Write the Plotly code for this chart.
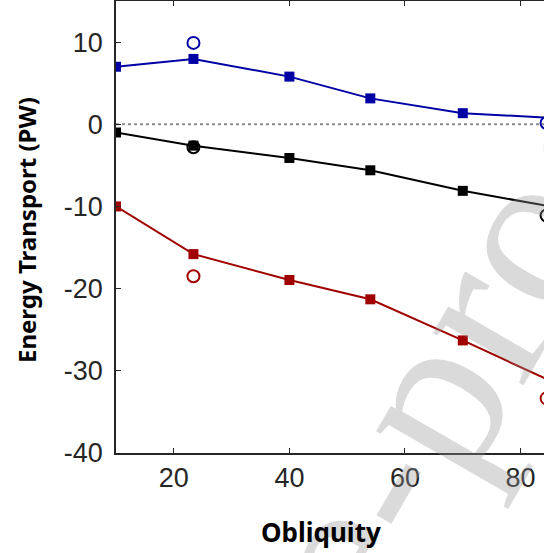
import plotly.graph_objects as go

# Model runs (filled squares joined by lines)
obliquity = [10, 23.4, 40, 54, 70, 90]
blue_vals = [7.0, 7.95, 5.8, 3.15, 1.35, 0.6]
black_vals = [-1.0, -2.6, -4.1, -5.6, -8.1, -10.6]
red_vals = [-10.0, -15.8, -18.95, -21.3, -26.3, -32.8]

# Reference points (open circles)
ref_obliquity = [23.4, 84.5]
blue_ref = [9.9, 0.15]
black_ref = [-2.8, -11.1]
red_ref = [-18.5, -33.35]

y_ticks = [-40, -30, -20, -10, 0, 10]
y_ticklabels = [str(v) for v in y_ticks]
x_ticks = [20, 40, 60, 80]
x_ticklabels = [str(v) for v in x_ticks]

BLUE = "rgb(0,0,165)"
BLACK = "rgb(0,0,0)"
RED = "rgb(160,0,0)"
AX = "#262626"

fig = go.Figure()

fig.add_hline(y=0, line=dict(color="#8c8c8c", width=2, dash="dot"), layer="below")

for vals, col in [(blue_vals, BLUE), (black_vals, BLACK), (red_vals, RED)]:
    fig.add_trace(go.Scatter(
        x=obliquity, y=vals, mode="lines+markers",
        line=dict(color=col, width=2),
        marker=dict(symbol="square", size=10, color=col),
        showlegend=False))

for vals, col in [(blue_ref, BLUE), (black_ref, BLACK), (red_ref, RED)]:
    fig.add_trace(go.Scatter(
        x=ref_obliquity, y=vals, mode="markers",
        marker=dict(symbol="circle-open", size=12, color=col, line=dict(width=2, color=col)),
        showlegend=False))

L, T, B = 116, 1, 100
W, H = 544, 553

fig.update_layout(
    width=W, height=H,
    margin=dict(l=L, r=0, t=T, b=B),
    paper_bgcolor="white", plot_bgcolor="white",
    font=dict(family="Liberation Sans, Arial, sans-serif", color=AX),
    xaxis=dict(range=[10, 84.05], tickvals=x_ticks, ticktext=x_ticklabels,
               ticks="inside", ticklen=5,
               tickcolor=AX, showline=True, linecolor=AX, linewidth=1.5,
               mirror="ticks", showgrid=False, zeroline=False,
               tickfont=dict(size=27, color=AX), ticklabelstandoff=0),
    yaxis=dict(range=[-40, 15], tickvals=y_ticks, ticktext=y_ticklabels,
               ticks="inside", ticklen=5,
               tickcolor=AX, showline=True, linecolor=AX, linewidth=1.5,
               mirror=False, showgrid=False, zeroline=False,
               tickfont=dict(size=27, color=AX), ticklabelstandoff=6),
    annotations=[
        dict(text="Journal Pre-proof", xref="paper", yref="paper",
             x=0.30, y=-0.58, xanchor="center", yanchor="middle",
             textangle=-60, showarrow=False,
             font=dict(family="Liberation Serif, DejaVu Serif, serif", size=228,
                       color="rgba(150,150,150,0.35)")),
        dict(text="<b>Obliquity</b>", xref="paper", yref="paper",
             x=(321 - L) / (W - L), y=-(532 - (H - B)) / (H - B - T),
             xanchor="center", yanchor="middle", showarrow=False,
             font=dict(family="Noto Sans, Open Sans, sans-serif", size=26, color="black")),
        dict(text="<b>Energy Transport (PW)</b>", xref="paper", yref="paper",
             x=-(L - 27) / (W - L), y=(H - B - 230) / (H - B - T),
             xanchor="center", yanchor="middle", textangle=-90, showarrow=False,
             font=dict(family="Noto Sans, Open Sans, sans-serif", size=24, color="black")),
    ],
)

fig.write_html("out.html", config={"displayModeBar": False},
               post_script="document.body.style.margin='0';document.body.style.overflow='hidden';")
